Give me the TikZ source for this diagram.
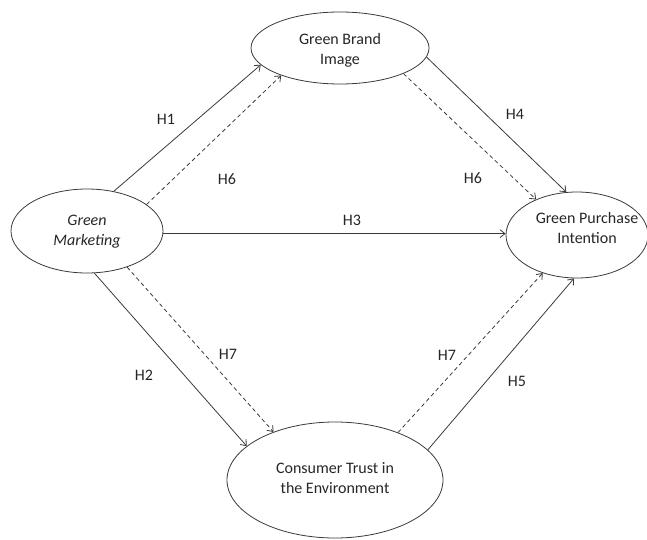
\documentclass[tikz,border=0pt]{standalone}
\usepackage{fontspec}
\setmainfont{Carlito}
\usetikzlibrary{shapes.geometric,arrows.meta}
\definecolor{linec}{HTML}{3A3A3A}
\definecolor{textc}{HTML}{262626}
\tikzset{
  ell/.style={ellipse, draw=linec, line width=0.8pt, inner sep=0pt},
  txt/.style={align=center, text=textc, font=\fontsize{16}{20}\selectfont},
  hlab/.style={text=textc, font=\fontsize{16}{20}\selectfont, inner sep=0pt},
  arr/.style={draw=linec, line width=0.8pt, -{Straight Barb[length=5pt,width=8pt]}},
  darr/.style={arr, dash pattern=on 4pt off 3pt}
}
\begin{document}
\begin{tikzpicture}[x=1pt,y=-1pt]
\useasboundingbox (0,0) rectangle (647,540);
% ellipses
\node[ell, minimum width=152pt, minimum height=84pt] (gm) at (87,231) {};
\node[ell, minimum width=178pt, minimum height=72pt] (gbi) at (340,48) {};
\node[ell, minimum width=142pt, minimum height=86pt] (gpi) at (577,235) {};
\node[ell, minimum width=216pt, minimum height=116pt] (ct) at (335,480) {};
% texts
\node[txt, font=\fontsize{16}{20}\selectfont\itshape] (gmt) at (87,231.5) {Green\\Marketing};
\node[txt] (gbit) at (340,50) {Green Brand\\Image};
\node[txt] (gpit) at (587,228) {Green Purchase\\Intention};
\node[txt] (ctt) at (335,478.5) {Consumer Trust in\\the Environment};
% connectors
\draw[arr] (gm.56.7) -- (gbi.192.1);
\draw[darr] (gm.24.9) -- (gbi.205.9);
\draw[arr] (gbi.354) -- (gpi.104.6);
\draw[darr] (gbi.338.4) -- (gpi.139.2);
\draw[arr] (gm.-2) -- (gm.-2 -| gpi.west);
\draw[arr] (gm.280.5) -- (ct.159.2);
\draw[darr] (gm.318.7) -- (ct.142.7);
\draw[darr] (ct.37.7) -- (gpi.228.5);
\draw[arr] (ct.18.3) -- (gpi.266.5);
% labels
\node[hlab] (l1) at (166,119) {H1};
\node[hlab] (l6a) at (227,179) {H6};
\node[hlab] (l4) at (515,114) {H4};
\node[hlab] (l6b) at (473,178) {H6};
\node[hlab] (l3) at (352,220) {H3};
\node[hlab] (l2) at (144,375) {H2};
\node[hlab] (l7a) at (228,354) {H7};
\node[hlab] (l7b) at (447,355) {H7};
\node[hlab] (l5) at (517,381) {H5};
\end{tikzpicture}
\end{document}
